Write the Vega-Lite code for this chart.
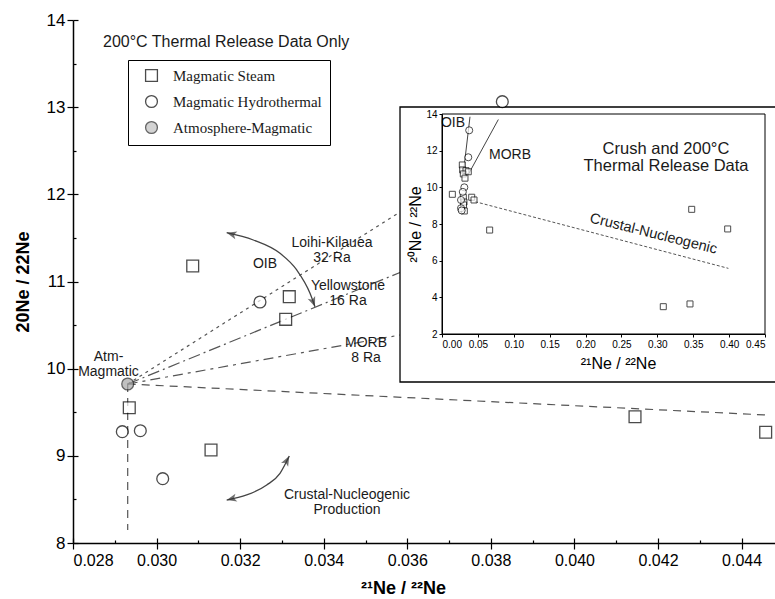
{
  "$schema": "https://vega.github.io/schema/vega-lite/v6.json",
  "width": 702,
  "height": 523,
  "autosize": "none",
  "padding": {"left": 73, "top": 20, "right": 0, "bottom": 56},
  "background": "white",
  "config": {
    "view": {"stroke": null},
    "font": "Liberation Sans",
    "axis": {"grid": false, "domainColor": "black", "tickColor": "black", "labelColor": "black", "titleColor": "black"},
    "text": {"font": "Liberation Sans", "color": "#1a1a1a"},
    "legend": {"orient": "none", "legendX": 55, "legendY": 40, "title": null, "strokeColor": "black", "fillColor": "white", "padding": 8, "symbolOffset": 8, "labelOffset": 14,
      "labelFont": "Liberation Serif", "labelFontSize": 15, "labelColor": "#1a1a1a", "rowPadding": 7, "symbolSize": 140, "symbolStrokeWidth": 1.3, "labelLimit": 300}
  },
  "resolve": {"scale": {"x": "independent", "y": "independent"}, "axis": {"x": "independent", "y": "independent"}},
  "layer": [
    {
      "layer": [
        {
          "data": {"values": [
            {"line": "Loihi-Kilauea", "x": 0.029309, "y": 9.824}, {"line": "Loihi-Kilauea", "x": 0.035826, "y": 11.797},
            {"line": "Yellowstone", "x": 0.029309, "y": 9.824}, {"line": "Yellowstone", "x": 0.035826, "y": 11.104},
            {"line": "MORB", "x": 0.029309, "y": 9.824}, {"line": "MORB", "x": 0.035826, "y": 10.386},
            {"line": "Crustal", "x": 0.029309, "y": 9.824}, {"line": "Crustal", "x": 0.044609, "y": 9.468},
            {"line": "Vertical", "x": 0.029309, "y": 9.824}, {"line": "Vertical", "x": 0.029309, "y": 8.15}
          ]},
          "mark": {"type": "line", "color": "#555555", "strokeWidth": 1.2},
          "encoding": {
            "x": {"field": "x", "type": "quantitative", "scale": {"domain": [0.028, 0.0448], "nice": false, "zero": false},
              "axis": {"orient": "bottom", "values": [0.028, 0.030, 0.032, 0.034, 0.036, 0.038, 0.040, 0.042, 0.044], "format": ".3f", "labelFontSize": 16, "labelPadding": 3, "tickSize": 6, "tickWidth": 1.2, "domainWidth": 1.5,
                "title": "²¹Ne / ²²Ne", "titleFontSize": 18, "titleFontWeight": "bold", "titleX": 330, "titleY": 45, "titleBaseline": "middle", "titleAlign": "center"}},
            "y": {"field": "y", "type": "quantitative", "scale": {"domain": [8, 14], "nice": false, "zero": false},
              "axis": {"orient": "left", "values": [8, 9, 10, 11, 12, 13, 14], "format": "d", "labelFontSize": 17, "labelPadding": 2, "tickSize": 6, "tickWidth": 1.2, "domainWidth": 1.5,
                "title": "20Ne / 22Ne", "titleFontSize": 18, "titleFontWeight": "bold", "titleX": -50, "titleY": 261.5, "titleAngle": 270, "titleAlign": "center", "titleBaseline": "middle"}},
            "detail": {"field": "line", "type": "nominal"},
            "strokeDash": {"field": "line", "type": "nominal", "legend": null,
              "scale": {"domain": ["Loihi-Kilauea", "Yellowstone", "MORB", "Crustal", "Vertical"], "range": [[3, 4], [12, 4, 2, 4], [10, 5, 3, 5], [8, 6], [8, 6]]}}
          }
        },
        {
          "data": {"values": [
            {"arc": "OIB", "x": 0.031678, "y": 11.560}, {"arc": "OIB", "x": 0.032315, "y": 11.476}, {"arc": "OIB", "x": 0.032954, "y": 11.323},
            {"arc": "OIB", "x": 0.033354, "y": 11.132}, {"arc": "OIB", "x": 0.033672, "y": 10.865}, {"arc": "OIB", "x": 0.033791, "y": 10.711},
            {"arc": "Crustal", "x": 0.031678, "y": 8.493}, {"arc": "Crustal", "x": 0.032157, "y": 8.551}, {"arc": "Crustal", "x": 0.032636, "y": 8.665},
            {"arc": "Crustal", "x": 0.032954, "y": 8.800}, {"arc": "Crustal", "x": 0.033176, "y": 8.998}
          ]},
          "mark": {"type": "line", "color": "#444444", "strokeWidth": 1.3, "interpolate": "monotone"},
          "encoding": {
            "x": {"field": "x", "type": "quantitative"},
            "y": {"field": "y", "type": "quantitative"},
            "detail": {"field": "arc", "type": "nominal"}
          }
        },
        {
          "data": {"values": [{"x": 0.031678, "y": 11.560}]},
          "mark": {"type": "point", "shape": "M0,0L-2,-0.8L-1.5,0L-2,0.8Z", "filled": true, "color": "#333333", "size": 100, "angle": 195},
          "encoding": {"x": {"field": "x", "type": "quantitative"}, "y": {"field": "y", "type": "quantitative"}}
        },
        {
          "data": {"values": [{"x": 0.033791, "y": 10.711}]},
          "mark": {"type": "point", "shape": "M0,0L-2,-0.8L-1.5,0L-2,0.8Z", "filled": true, "color": "#333333", "size": 100, "angle": 69},
          "encoding": {"x": {"field": "x", "type": "quantitative"}, "y": {"field": "y", "type": "quantitative"}}
        },
        {
          "data": {"values": [{"x": 0.031678, "y": 8.493}]},
          "mark": {"type": "point", "shape": "M0,0L-2,-0.8L-1.5,0L-2,0.8Z", "filled": true, "color": "#333333", "size": 100, "angle": 166},
          "encoding": {"x": {"field": "x", "type": "quantitative"}, "y": {"field": "y", "type": "quantitative"}}
        },
        {
          "data": {"values": [{"x": 0.033176, "y": 8.998}]},
          "mark": {"type": "point", "shape": "M0,0L-2,-0.8L-1.5,0L-2,0.8Z", "filled": true, "color": "#333333", "size": 100, "angle": 298},
          "encoding": {"x": {"field": "x", "type": "quantitative"}, "y": {"field": "y", "type": "quantitative"}}
        },
        {
          "data": {"values": [
            {"t": "OIB", "x": 0.032595, "y": 11.201},
            {"t": "Loihi-Kilauea\n32 Ra", "x": 0.034198, "y": 11.447},
            {"t": "Yellowstone\n16 Ra", "x": 0.034581, "y": 10.943},
            {"t": "MORB\n8 Ra", "x": 0.035012, "y": 10.289},
            {"t": "Atm-\nMagmatic", "x": 0.028850, "y": 10.134},
            {"t": "Crustal-Nucleogenic\nProduction", "x": 0.034557, "y": 8.545}
          ]},
          "mark": {"type": "text", "fontSize": 14, "lineBreak": "\n", "lineHeight": 15, "align": "center", "baseline": "middle"},
          "encoding": {"x": {"field": "x", "type": "quantitative"}, "y": {"field": "y", "type": "quantitative"}, "text": {"field": "t", "type": "nominal"}}
        },
        {
          "data": {"values": [{"t": "200°C Thermal Release Data Only", "x": 0.028718, "y": 13.748}]},
          "mark": {"type": "text", "fontSize": 16, "align": "left", "baseline": "middle"},
          "encoding": {"x": {"field": "x", "type": "quantitative"}, "y": {"field": "y", "type": "quantitative"}, "text": {"field": "t", "type": "nominal"}}
        },
        {
          "mark": {"type": "rule", "color": "black", "strokeWidth": 1.5},
          "encoding": {"y": {"datum": 14, "type": "quantitative"}}
        }
      ]
    },
    {
      "layer": [
        {
          "data": {"values": [{"x": -0.0585, "x2": 0.4709, "y": 14.382, "y2": -0.618}]},
          "mark": {"type": "rect", "fill": "white", "stroke": "black", "strokeWidth": 1.3},
          "encoding": {
            "x": {"field": "x", "type": "quantitative", "scale": {"domain": [0, 0.45], "range": [369, 692], "nice": false, "zero": false},
              "axis": {"orient": "bottom", "offset": -209, "zindex": 1, "values": [0, 0.05, 0.1, 0.15, 0.2, 0.25, 0.3, 0.35, 0.4, 0.45], "format": ".2f", "labelFontSize": 10, "labelPadding": 2, "tickSize": 3, "domainWidth": 1,
                "title": "²¹Ne / ²²Ne", "titleFontSize": 16, "titleFontWeight": "normal", "titleX": 545, "titleY": 29, "titleBaseline": "middle", "titleAlign": "center"}},
            "x2": {"field": "x2"},
            "y": {"field": "y", "type": "quantitative", "scale": {"domain": [2, 14], "range": [314, 94], "nice": false, "zero": false},
              "axis": {"orient": "left", "offset": -369, "zindex": 1, "values": [2, 4, 6, 8, 10, 12, 14], "labelFontSize": 10, "labelPadding": 2, "tickSize": 3, "domainWidth": 1,
                "title": "²⁰Ne / ²²Ne", "titleFontSize": 16, "titleFontWeight": "normal", "titleX": -27, "titleY": 204, "titleAngle": 270, "titleAlign": "center", "titleBaseline": "middle"}},
            "y2": {"field": "y2"}
          }
        },
        {
          "data": {"values": [{"x": 0, "x2": 0.45, "y": 14, "y2": 2}]},
          "mark": {"type": "rect", "filled": false, "stroke": "black", "strokeWidth": 1},
          "encoding": {
            "x": {"field": "x", "type": "quantitative"}, "x2": {"field": "x2"},
            "y": {"field": "y", "type": "quantitative"}, "y2": {"field": "y2"}
          }
        },
        {
          "data": {"values": [
            {"line": "OIB", "x": 0.039, "y": 13.85}, {"line": "OIB", "x": 0.0295, "y": 10.7},
            {"line": "MORB", "x": 0.0785, "y": 13.7}, {"line": "MORB", "x": 0.0366, "y": 10.7}
          ]},
          "mark": {"type": "line", "color": "#444444", "strokeWidth": 1},
          "encoding": {"x": {"field": "x", "type": "quantitative"}, "y": {"field": "y", "type": "quantitative"}, "detail": {"field": "line", "type": "nominal"}}
        },
        {
          "data": {"values": [{"x": 0.046, "y": 9.22}, {"x": 0.399, "y": 5.58}]},
          "mark": {"type": "line", "color": "#555555", "strokeWidth": 1, "strokeDash": [3, 2]},
          "encoding": {"x": {"field": "x", "type": "quantitative"}, "y": {"field": "y", "type": "quantitative"}}
        },
        {
          "data": {"values": [
            {"x": 0.0283, "y": 11.22}, {"x": 0.0288, "y": 10.95}, {"x": 0.0334, "y": 10.91}, {"x": 0.0297, "y": 10.73},
            {"x": 0.0366, "y": 10.85}, {"x": 0.032, "y": 10.5}, {"x": 0.0144, "y": 9.62}, {"x": 0.0297, "y": 9.46},
            {"x": 0.0414, "y": 9.46}, {"x": 0.0446, "y": 9.31}, {"x": 0.0306, "y": 9.2}, {"x": 0.030, "y": 9.04},
            {"x": 0.0311, "y": 8.71}, {"x": 0.0664, "y": 7.67}, {"x": 0.3083, "y": 3.49}, {"x": 0.3455, "y": 3.64},
            {"x": 0.3479, "y": 8.80}, {"x": 0.398, "y": 7.73}
          ]},
          "mark": {"type": "point", "shape": "square", "filled": true, "fill": "white", "stroke": "black", "strokeWidth": 1, "size": 36},
          "encoding": {"x": {"field": "x", "type": "quantitative"}, "y": {"field": "y", "type": "quantitative"}}
        },
        {
          "data": {"values": [
            {"x": 0.0379, "y": 13.11}, {"x": 0.0366, "y": 11.64}, {"x": 0.0311, "y": 10.0}, {"x": 0.029, "y": 9.75},
            {"x": 0.0265, "y": 9.31}, {"x": 0.0265, "y": 8.86}, {"x": 0.0274, "y": 8.74}
          ]},
          "mark": {"type": "point", "shape": "circle", "filled": true, "fill": "white", "stroke": "black", "strokeWidth": 1, "size": 50},
          "encoding": {"x": {"field": "x", "type": "quantitative"}, "y": {"field": "y", "type": "quantitative"}}
        },
        {
          "data": {"values": [
            {"t": "OIB", "x": 0.0153, "y": 13.509},
            {"t": "MORB", "x": 0.0947, "y": 11.764}
          ]},
          "mark": {"type": "text", "fontSize": 14, "align": "center", "baseline": "middle"},
          "encoding": {"x": {"field": "x", "type": "quantitative"}, "y": {"field": "y", "type": "quantitative"}, "text": {"field": "t", "type": "nominal"}}
        },
        {
          "data": {"values": [{"t": "Crush and 200°C\nThermal Release Data", "x": 0.31207, "y": 12.118}]},
          "mark": {"type": "text", "fontSize": 16.5, "lineBreak": "\n", "lineHeight": 17, "align": "center", "baseline": "middle"},
          "encoding": {"x": {"field": "x", "type": "quantitative"}, "y": {"field": "y", "type": "quantitative"}, "text": {"field": "t", "type": "nominal"}}
        },
        {
          "data": {"values": [{"t": "Crustal-Nucleogenic", "x": 0.2945, "y": 7.45}]},
          "mark": {"type": "text", "fontSize": 14.5, "angle": 14, "align": "center", "baseline": "middle"},
          "encoding": {"x": {"field": "x", "type": "quantitative"}, "y": {"field": "y", "type": "quantitative"}, "text": {"field": "t", "type": "nominal"}}
        }
      ]
    },
    {
      "layer": [
        {
          "data": {"values": [
            {"type": "Magmatic Steam", "x": 0.030865, "y": 11.178},
            {"type": "Magmatic Steam", "x": 0.033176, "y": 10.826},
            {"type": "Magmatic Steam", "x": 0.033090, "y": 10.566},
            {"type": "Magmatic Steam", "x": 0.029347, "y": 9.552},
            {"type": "Magmatic Steam", "x": 0.031303, "y": 9.067},
            {"type": "Magmatic Steam", "x": 0.041450, "y": 9.449},
            {"type": "Magmatic Steam", "x": 0.044577, "y": 9.270},
            {"type": "Magmatic Hydrothermal", "x": 0.032475, "y": 10.765},
            {"type": "Magmatic Hydrothermal", "x": 0.029180, "y": 9.277},
            {"type": "Magmatic Hydrothermal", "x": 0.029611, "y": 9.288},
            {"type": "Magmatic Hydrothermal", "x": 0.030147, "y": 8.738},
            {"type": "Magmatic Hydrothermal", "x": 0.038274, "y": 13.063},
            {"type": "Atmosphere-Magmatic", "x": 0.029309, "y": 9.824}
          ]},
          "mark": {"type": "point", "filled": true, "strokeWidth": 1.3, "size": 140},
          "encoding": {
            "x": {"field": "x", "type": "quantitative", "scale": {"domain": [0.028, 0.0448], "nice": false, "zero": false},
              "axis": {"orient": "bottom", "values": [0.028, 0.029, 0.030, 0.031, 0.032, 0.033, 0.034, 0.035, 0.036, 0.037, 0.038, 0.039, 0.040, 0.041, 0.042, 0.043, 0.044], "labels": false, "domain": false, "title": null, "tickWidth": 1.2,
                "tickSize": {"condition": {"test": "round(datum.value*1000) % 2 == 1", "value": -3}, "value": -5}}},
            "y": {"field": "y", "type": "quantitative", "scale": {"domain": [8, 14], "nice": false, "zero": false},
              "axis": {"orient": "left", "values": [8, 8.5, 9, 9.5, 10, 10.5, 11, 11.5, 12, 12.5, 13, 13.5, 14], "labels": false, "domain": false, "title": null, "tickWidth": 1.2,
                "tickSize": {"condition": {"test": "datum.value % 1 != 0", "value": -3}, "value": -5}}},
            "shape": {"field": "type", "type": "nominal",
              "scale": {"domain": ["Magmatic Steam", "Magmatic Hydrothermal", "Atmosphere-Magmatic"], "range": ["square", "circle", "circle"]}},
            "fill": {"field": "type", "type": "nominal",
              "scale": {"domain": ["Magmatic Steam", "Magmatic Hydrothermal", "Atmosphere-Magmatic"], "range": ["white", "white", "#a6a6a6"]}},
            "stroke": {"field": "type", "type": "nominal",
              "scale": {"domain": ["Magmatic Steam", "Magmatic Hydrothermal", "Atmosphere-Magmatic"], "range": ["black", "black", "#222222"]}}
          }
        }
      ]
    }
  ]
}
